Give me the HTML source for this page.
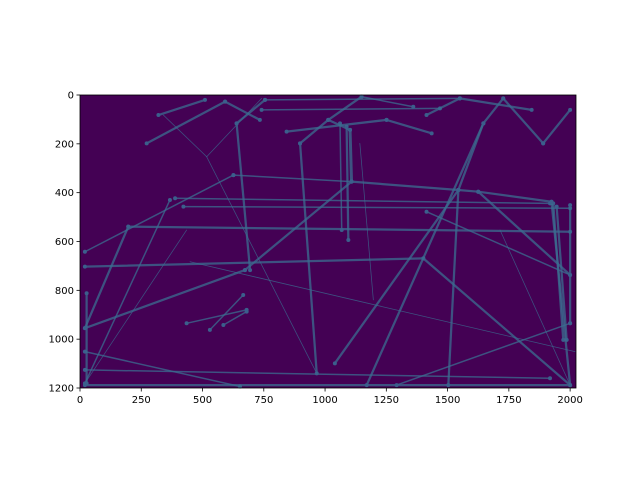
<!DOCTYPE html>
<html><head><meta charset="utf-8"><style>
html,body{margin:0;padding:0;background:#fff;}
svg text{font-family:"DejaVu Sans","Liberation Sans",sans-serif;font-size:10px;fill:#000;}
</style></head><body>
<svg id="chart" width="640" height="480" viewBox="0 0 640 480" xmlns="http://www.w3.org/2000/svg">
<rect x="80" y="95" width="496" height="293" fill="#440154"/>
<g id="marks"></g>
<rect x="80" y="95" width="496" height="293" fill="none" stroke="#000" stroke-width="0.8"/>
<g id="ticks"></g>
</svg>
<script>
const xTicks=[0,250,500,750,1000,1250,1500,1750,2000];
const yTicks=[0,200,400,600,800,1000,1200];
const segX1=[20,673,1108,1544,1625,1625,626,626,20,1401,388,422,197,435,449,20,20,20,898,639,1544,1040,1170,1727,1646,1727,1890,898,1013,1013,1102,1061,1088,320,272,592,340,517,517,639,843,1251,755,741,1149,1550,1550,1931,1945,2000,1924,27,20,20,1292,1714,1142,435,530,585,1414];
const segY1=[955,717,355,389,396,396,328,328,703,669,423,457,539,553,683,1051,1188,1126,198,116,389,1099,1188,14,116,14,198,198,102,102,143,116,130,82,198,27,82,253,253,116,150,102,20,61,7,14,14,444,457,451,437,812,955,1181,1188,553,198,935,962,942,478];
const segX2=[673,1108,1544,1625,1924,2000,1108,20,1401,2000,1918,2000,2000,20,2020,653,2000,1918,966,694,1503,1544,1646,1646,1544,1890,2000,1013,1149,1102,1108,1068,1095,510,592,734,517,966,741,755,1251,1435,1550,1469,1360,1843,1414,1972,1986,2000,2000,27,197,367,2000,2000,1197,680,666,680,2000];
const segY2=[717,355,389,396,437,737,355,642,669,1188,444,464,560,1181,1051,1194,1188,1160,1140,717,1188,389,116,116,389,198,61,102,7,143,355,553,594,20,27,102,253,1140,14,20,102,157,14,55,48,61,82,1003,1003,935,1188,1181,539,430,935,1188,839,880,819,887,737];
const segW=[3,3,3,3,3,3,2,2,3,3,2,2,3,1,1,2,3,2,3,3,3,3,3,3,3,3,3,3,3,3,4,2,3,3,3,3,1,1,1,3,3,3,2,2,2,3,3,3,3,3,3,3,3,2,2,1,1,2,2,2,2];
const X0=80,X1=576,Y0=95,Y1=388,XMAX=2024,YMAX=1200;
function sx(v){return X0+v*(X1-X0)/XMAX;}
function sy(v){return Y0+v*(Y1-Y0)/YMAX;}
const NS="http://www.w3.org/2000/svg";
const marks=document.getElementById('marks');
for(let i=0;i<segX1.length;i++){
  const l=document.createElementNS(NS,'line');
  l.setAttribute('x1',sx(segX1[i]));l.setAttribute('y1',sy(segY1[i]));
  l.setAttribute('x2',sx(segX2[i]));l.setAttribute('y2',sy(segY2[i]));
  l.setAttribute('stroke','#3b6e90');l.setAttribute('stroke-opacity','0.75');
  l.setAttribute('stroke-width',segW[i]*0.75);l.setAttribute('stroke-linecap','round');
  
  
  marks.appendChild(l);
  if(segW[i]>=2){
    [[segX1[i],segY1[i]],[segX2[i],segY2[i]]].forEach(p=>{
      const c=document.createElementNS(NS,'circle');
      c.setAttribute('cx',sx(p[0]));c.setAttribute('cy',sy(p[1]));c.setAttribute('r',2);
      c.setAttribute('fill','#3b5f8c');
      
      
      marks.appendChild(c);
    });
  }
}
const tg=document.getElementById('ticks');
xTicks.forEach(v=>{
  const t=document.createElementNS(NS,'line');
  t.setAttribute('x1',sx(v));t.setAttribute('x2',sx(v));t.setAttribute('y1',Y1);t.setAttribute('y2',Y1+3.5);t.setAttribute('stroke','#000');t.setAttribute('stroke-width','0.8');
  
  
  tg.appendChild(t);
  const tx=document.createElementNS(NS,'text');
  tx.setAttribute('x',sx(v));tx.setAttribute('y',Y1+15);tx.setAttribute('text-anchor','middle');tx.textContent=v;
  
  
  tg.appendChild(tx);
});
yTicks.forEach(v=>{
  const t=document.createElementNS(NS,'line');
  t.setAttribute('x1',X0-3.5);t.setAttribute('x2',X0);t.setAttribute('y1',sy(v));t.setAttribute('y2',sy(v));t.setAttribute('stroke','#000');t.setAttribute('stroke-width','0.8');
  
  
  tg.appendChild(t);
  const tx=document.createElementNS(NS,'text');
  tx.setAttribute('x',X0-6);tx.setAttribute('y',sy(v)+3.5);tx.setAttribute('text-anchor','end');tx.textContent=v;
  
  
  tg.appendChild(tx);
});
</script>
</body></html>
